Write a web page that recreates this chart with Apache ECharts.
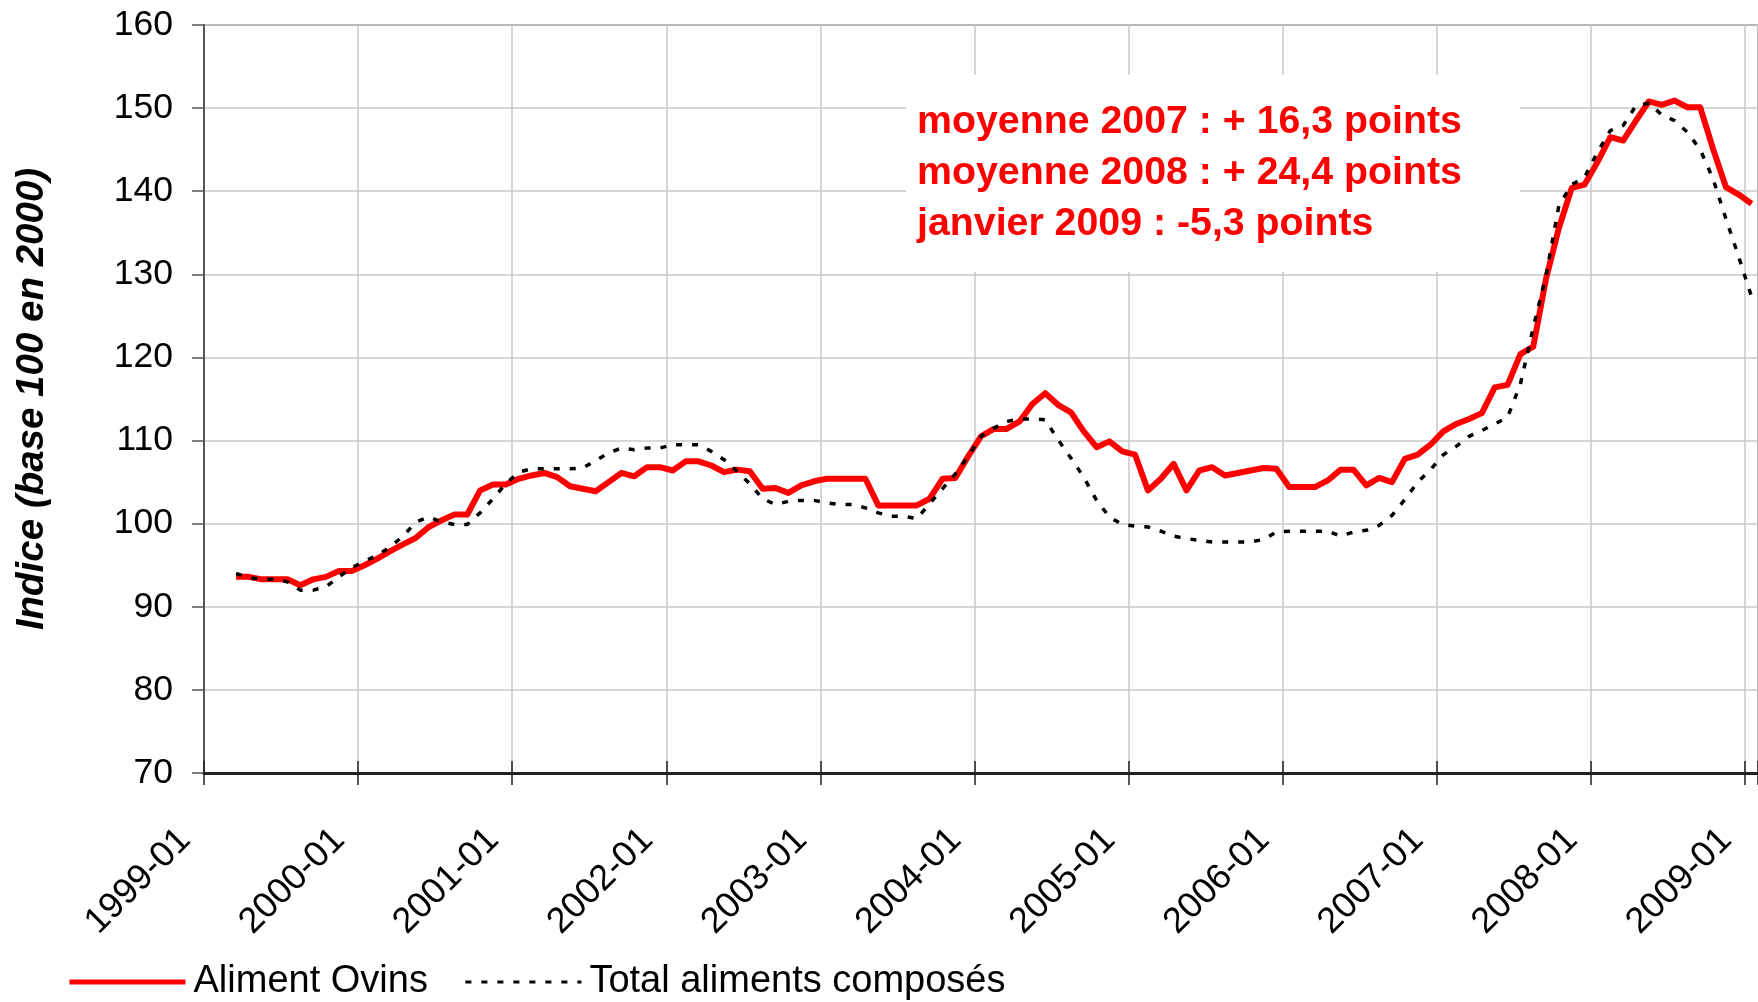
<!DOCTYPE html>
<html>
<head>
<meta charset="utf-8">
<script src="https://cdn.jsdelivr.net/npm/echarts@6/dist/echarts.min.js"></script>
<style>
  html, body { margin: 0; padding: 0; background: #ffffff; overflow: hidden; }
  #chart { width: 1758px; height: 1002px; }
</style>
</head>
<body>
<div id="chart"></div>
<script>
// Monthly categories, January 1999 to January 2009
const firstYear = 1999;
const lastYear = 2009;
const months = [];
for (let y = firstYear; y <= lastYear; y++) {
  for (let m = 1; m <= 12; m++) {
    if (y === lastYear && m > 1) break;
    months.push(y + '-' + (m < 10 ? '0' + m : '' + m));
  }
}

const seriesNames = ['Aliment Ovins', 'Total aliments composés'];

// Indice (base 100 en 2000), one value per month; null where no value
const alimentOvins = [
  null, null, 93.6, 93.6, 93.3, 93.3, 93.3, 92.6, 93.3, 93.6, 94.3, 94.3,
  95.0, 95.8, 96.7, 97.5, 98.3, 99.6, 100.4, 101.1, 101.1, 104.0, 104.7, 104.7,
  105.4, 105.8, 106.1, 105.6, 104.5, 104.2, 103.9, 105.0, 106.1, 105.7, 106.8, 106.8,
  106.4, 107.5, 107.5, 107.0, 106.2, 106.5, 106.3, 104.2, 104.3, 103.7, 104.6, 105.1,
  105.4, 105.4, 105.4, 105.4, 102.2, 102.2, 102.2, 102.2, 103.0, 105.4, 105.5, 108.1,
  110.5, 111.4, 111.4, 112.3, 114.4, 115.7, 114.3, 113.4, 111.1, 109.2, 109.9, 108.7,
  108.3, 104.0, 105.4, 107.2, 104.0, 106.4, 106.8, 105.8, 106.1, 106.4, 106.7, 106.6,
  104.4, 104.4, 104.4, 105.2, 106.5, 106.5, 104.6, 105.5, 105.0, 107.8, 108.3, 109.5,
  111.1, 112.0, 112.6, 113.3, 116.4, 116.7, 120.4, 121.3, 129.5, 135.6, 140.4, 140.8,
  143.5, 146.5, 146.1, 148.5, 150.8, 150.4, 150.9, 150.1, 150.1, 145.1, 140.5, 139.6,
  138.5
];

const totalAliments = [
  null, null, 94.0, 93.5, 93.3, 93.3, 93.0, 92.0, 92.0, 92.4, 93.6, 94.7,
  95.5, 96.2, 97.2, 98.5, 100.2, 100.8, 100.2, 99.9, 99.9, 101.3, 103.0, 104.8,
  106.2, 106.6, 106.6, 106.6, 106.6, 106.7, 107.6, 108.5, 109.1, 108.9, 109.1, 109.1,
  109.5, 109.5, 109.5, 108.7, 107.7, 106.3, 104.8, 103.0, 102.3, 102.7, 102.8, 102.8,
  102.5, 102.3, 102.3, 101.9, 101.3, 100.9, 100.9, 100.6, 102.4, 104.2, 106.0, 108.1,
  110.5, 111.5, 112.3, 112.6, 112.6, 112.5, 110.1, 107.9, 105.6, 102.8, 100.8, 99.9,
  99.7, 99.6, 99.1, 98.5, 98.2, 98.0, 97.8, 97.8, 97.8, 97.8, 98.1, 99.0,
  99.1, 99.1, 99.1, 99.1, 98.5, 99.0, 99.2, 99.8, 101.0, 102.9, 105.0, 106.5,
  108.3, 109.3, 110.5, 111.2, 112.0, 112.8, 116.8, 123.6, 129.9, 138.3, 140.8, 141.7,
  144.7, 147.3, 147.9, 150.3, 150.6, 149.2, 148.5, 147.1, 145.0, 141.5, 136.7, 132.1,
  127.3
];

const yMin = 70, yMax = 160, yStep = 10;

const noteLines = [
  'moyenne 2007 : + 16,3 points',
  'moyenne 2008 : + 24,4 points',
  'janvier 2009 : -5,3 points'
];

const FONT = '"Liberation Sans", Arial, Helvetica, sans-serif';
const RED = '#ff0000';
const GRID_GREY = '#c8c8c8';

// one tick, label and vertical grid line per January
const januaryOnly = function (index) { return index % 12 === 0; };

const chart = echarts.init(document.getElementById('chart'), null, { renderer: 'canvas' });

// white panel behind the note, hiding the grid lines there
const noteGraphics = [{
  type: 'rect',
  left: 906, top: 75,
  shape: { width: 614, height: 197 },
  style: { fill: '#ffffff' },
  z: 1
}];
noteLines.forEach(function (t, i) {
  noteGraphics.push({
    type: 'text',
    left: 917, top: 103 + i * 51,
    style: { text: t, font: 'bold 39.3px ' + FONT, fill: RED },
    z: 3
  });
});

chart.setOption({
  animation: false,
  backgroundColor: '#ffffff',
  grid: {
    left: 204, top: 25, right: -5, bottom: 229,
    show: true, borderColor: '#8a8a8a', borderWidth: 2,
    backgroundColor: 'transparent'
  },
  legend: {
    left: 67, top: 963, padding: 0,
    itemWidth: 116, itemHeight: 14, itemGap: 36,
    itemStyle: { opacity: 0 },
    textStyle: { fontSize: 38, color: '#000', fontFamily: FONT, padding: [0, 0, 0, 3] },
    data: [
      { name: seriesNames[0], lineStyle: { width: 5 } },
      { name: seriesNames[1], lineStyle: { width: 3 } }
    ]
  },
  xAxis: [{
    type: 'category',
    data: months,
    boundaryGap: true,
    axisLine: { show: true, lineStyle: { color: '#222', width: 3 } },
    axisTick: { show: true, interval: januaryOnly, length: 12, lineStyle: { color: '#222', width: 1.5 } },
    axisLabel: {
      interval: januaryOnly, rotate: 45, margin: 36, padding: [0, 36, 0, 0],
      fontSize: 36, color: '#000', fontFamily: FONT
    },
    splitLine: { show: true, interval: januaryOnly, lineStyle: { color: GRID_GREY, width: 1.5 } }
  }, {
    // inner half of the crossing tick marks
    type: 'category',
    data: months,
    position: 'bottom',
    boundaryGap: true,
    axisLine: { show: false },
    axisTick: { show: true, inside: true, interval: januaryOnly, length: 12, lineStyle: { color: '#222', width: 1.5 } },
    axisLabel: { show: false },
    splitLine: { show: false }
  }],
  yAxis: {
    type: 'value',
    min: yMin, max: yMax, interval: yStep,
    name: 'Indice (base 100 en 2000)',
    nameLocation: 'middle',
    nameGap: 152,
    nameTextStyle: { fontSize: 38.5, fontWeight: 'bold', fontStyle: 'italic', color: '#000', fontFamily: FONT },
    axisLine: { show: true, lineStyle: { color: '#555', width: 2 } },
    axisTick: { show: true, length: 12, lineStyle: { color: '#555', width: 1.5 } },
    axisLabel: { margin: 31, fontSize: 35.5, color: '#000', fontFamily: FONT },
    splitLine: { show: true, lineStyle: { color: GRID_GREY, width: 1.5 } }
  },
  series: [{
    name: seriesNames[0],
    type: 'line',
    data: alimentOvins,
    symbol: 'none',
    lineStyle: { color: RED, width: 6, join: 'round' },
    itemStyle: { color: RED },
    z: 2
  }, {
    name: seriesNames[1],
    type: 'line',
    data: totalAliments,
    symbol: 'none',
    lineStyle: { color: '#000', width: 3.5, type: [6, 10], cap: 'butt' },
    itemStyle: { color: '#000' },
    z: 3
  }],
  graphic: noteGraphics
});
</script>
</body>
</html>
